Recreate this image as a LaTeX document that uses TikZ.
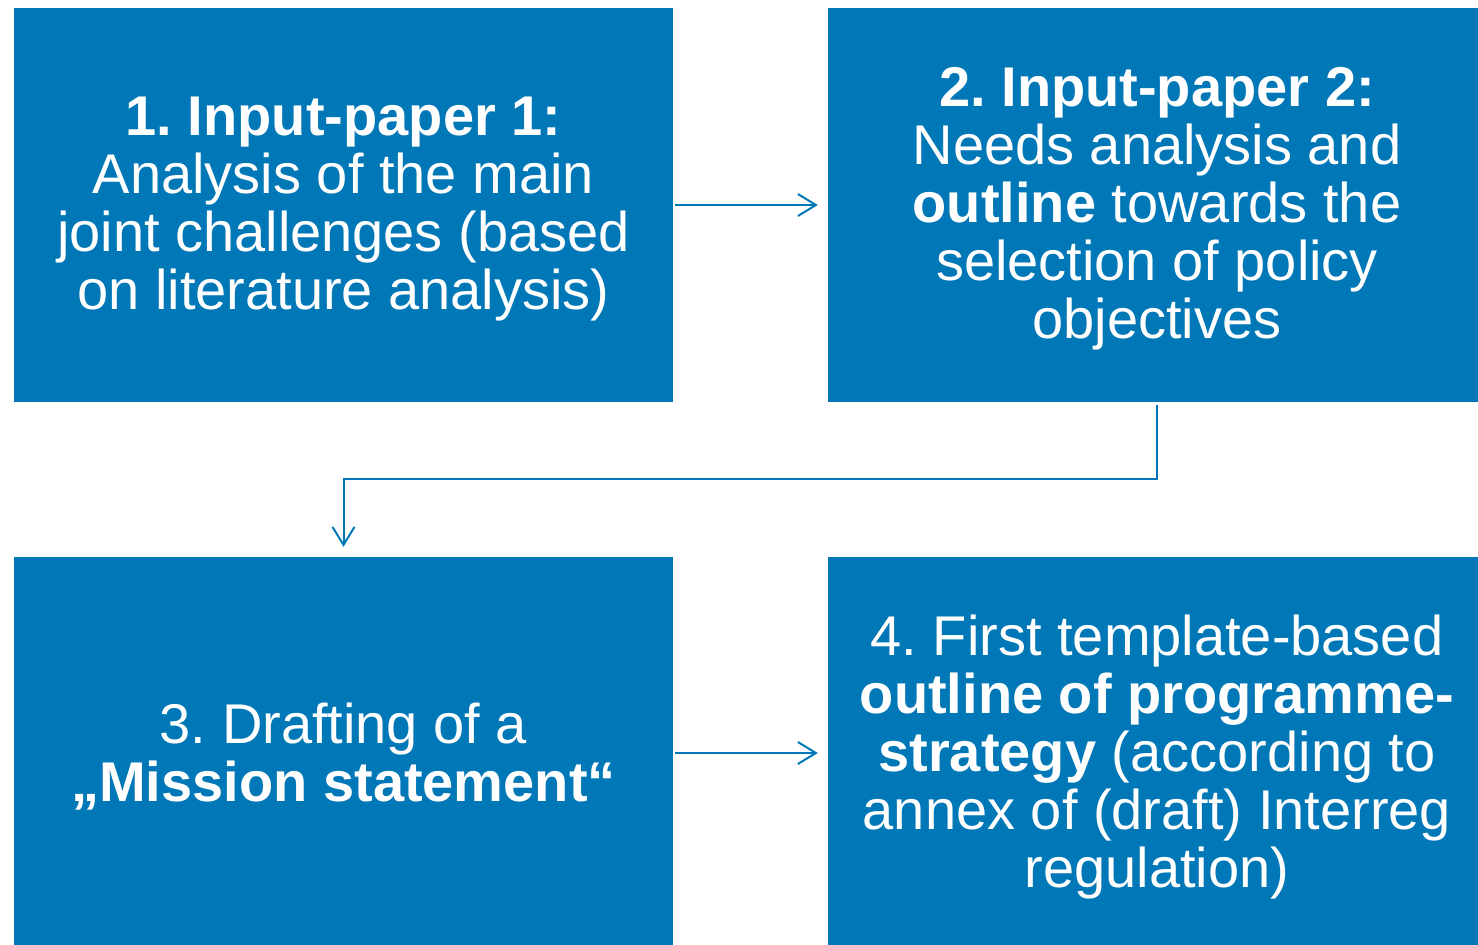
\documentclass[tikz,border=0pt]{standalone}
\usepackage{fontspec}
\setmainfont{Liberation Sans}
\usetikzlibrary{arrows.meta}
\definecolor{boxblue}{RGB}{0,119,182}
\frenchspacing
\tikzset{
  box/.style={fill=boxblue, draw=none, inner sep=0pt},
  boxtext/.style={text=white, align=center, inner sep=0pt,
    font=\fontsize{56}{58}\selectfont\frenchspacing},
  arr/.style={draw=boxblue, line width=2pt, -{Straight Barb[length=18pt,width=22pt,line width=2pt]}}
}
\begin{document}
\begin{tikzpicture}[x=1pt,y=1pt]
\useasboundingbox (0,0) rectangle (1478,-945);
\node[box, minimum width=659pt, minimum height=394pt] (b1) at (343.5,-205) {};
\node[box, minimum width=658pt, minimum height=394pt] (b2) at (1157,-205) {};
\node[box, minimum width=659pt, minimum height=392pt] (b3) at (343.5,-753) {};
\node[box, minimum width=658pt, minimum height=392pt] (b4) at (1157,-753) {};
\node[boxtext] (t1) at ([yshift=-4pt]b1.center)
  {\textbf{1. Input-paper 1:}\\Analysis of the main\\joint challenges (based\\on literature analysis)};
\node[boxtext] (t2) at ([yshift=-4pt]b2.center)
  {\textbf{2. Input-paper 2:}\\Needs analysis and\\\textbf{outline} towards the\\selection of policy\\objectives};
\node[boxtext] (t3) at ([yshift=-4pt]b3.center)
  {3. Drafting of a\\\textbf{„Mission statement“}};
\node[boxtext] (t4) at ([yshift=-4pt]b4.center)
  {4. First template-based\\\textbf{outline of programme-}\\\textbf{strategy} (according to\\annex of (draft) Interreg\\regulation)};
\coordinate (m) at (1157,-479);
\draw[arr] ([xshift=2pt]b1.east) -- ([xshift=-10pt]b2.west);
\draw[arr] ([yshift=-3pt]b2.south) -- (m) -- (m -| b3.north) -- ([yshift=10pt]b3.north);
\draw[arr] ([xshift=2pt]b3.east) -- ([xshift=-10pt]b4.west);
\end{tikzpicture}
\end{document}
